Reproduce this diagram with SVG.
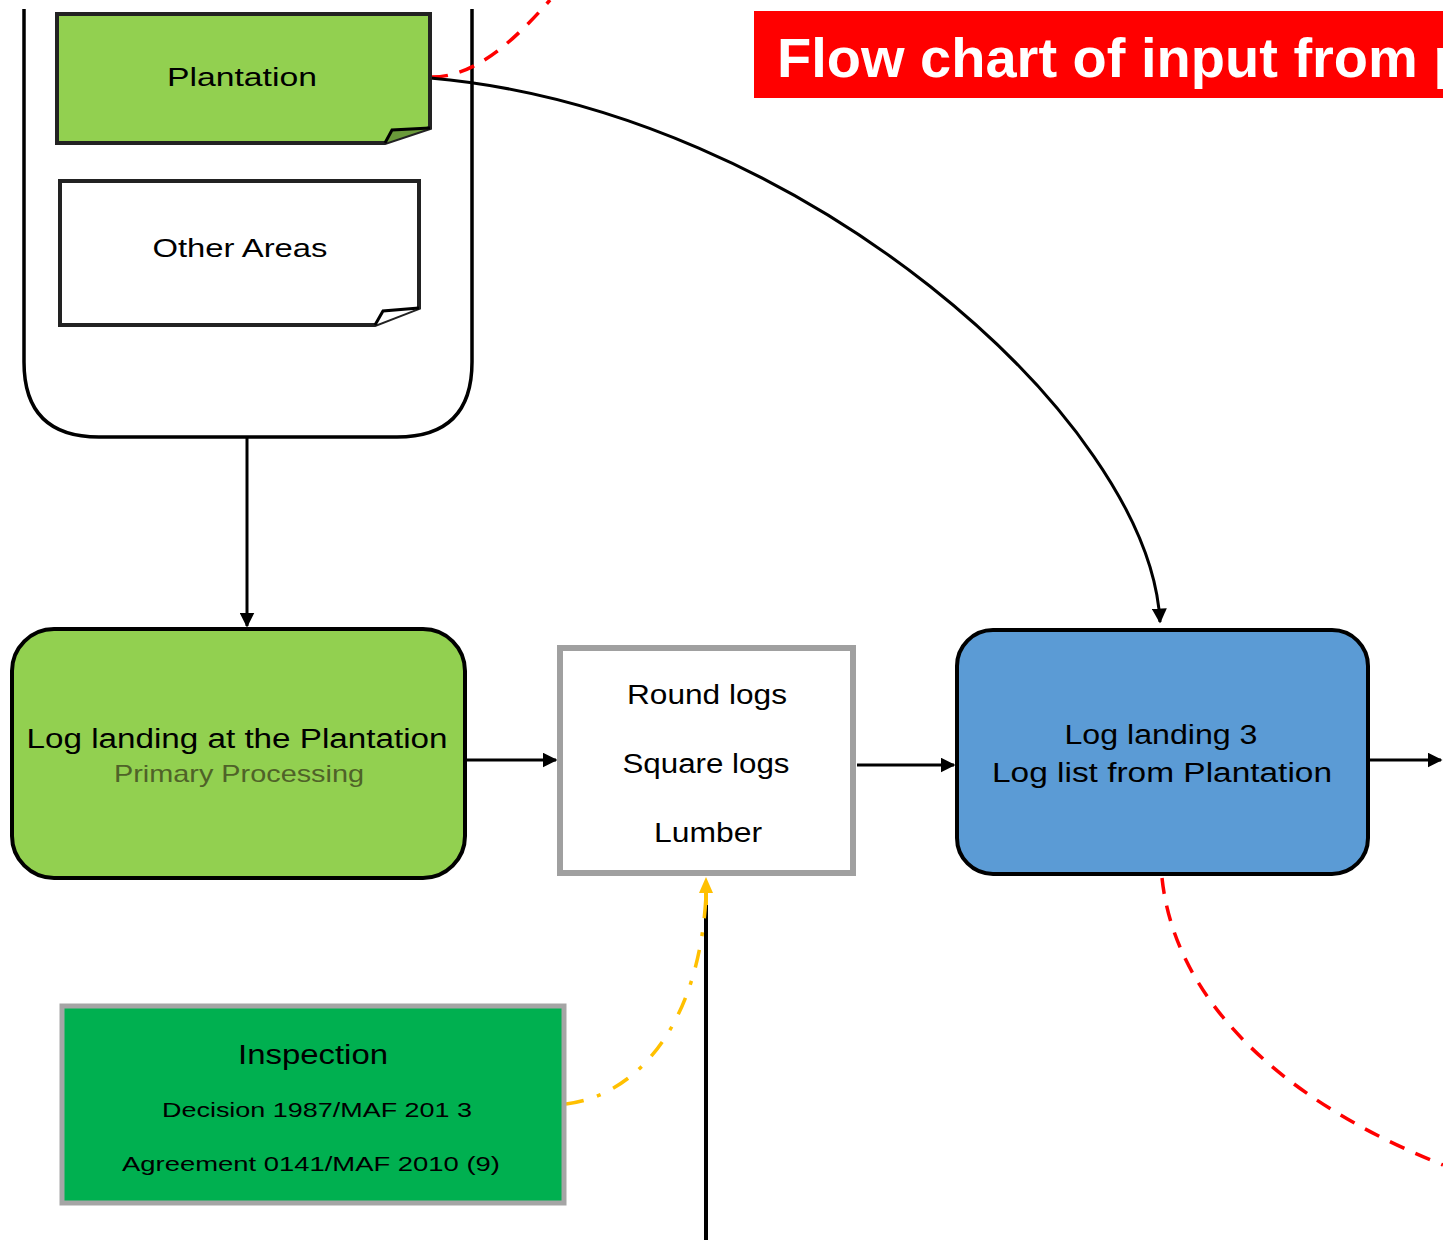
<svg xmlns="http://www.w3.org/2000/svg" width="1443" height="1240" viewBox="0 0 1443 1240">
  <style>
    .lbl { font-family: "Liberation Sans", "Noto Sans", Arial, sans-serif; fill: #000; text-anchor: middle; }
    .conn { fill: none; stroke: #000; stroke-width: 3; }
    .red { fill: none; stroke: #ff0000; stroke-width: 3.5; stroke-dasharray: 16 12; }
    .yel { fill: none; stroke: #ffc000; stroke-width: 3.5; stroke-dasharray: 18 14 4 14; }
  </style>
  <defs>
    <marker id="arr" viewBox="0 0 10 10" refX="9" refY="5" markerWidth="5" markerHeight="5" orient="auto" markerUnits="strokeWidth">
      <path d="M0,0 L10,5 L0,10 z" fill="#000"/>
    </marker>
  </defs>
  <rect width="1443" height="1240" fill="#fff"/>

  <g id="container">
    <path d="M24,9 L24,362 Q24,437 99,437 L397,437 Q472,437 472,362 L472,9" fill="#fff" stroke="#000" stroke-width="3.5"/>
  </g>

  <g id="connectors">
    <path class="red" d="M432,77 C475,77 515,40 550,0"/>
    <path class="conn" d="M430,78 C800,110 1150,420 1160,622" marker-end="url(#arr)"/>
    <path class="conn" d="M247,437 L247,626" marker-end="url(#arr)"/>
    <path class="conn" d="M467,760 L556,760" marker-end="url(#arr)"/>
    <path class="conn" d="M857,765 L954,765" stroke-width="4" marker-end="url(#arr)"/>
    <path class="conn" d="M1370,760 L1441,760" marker-end="url(#arr)"/>
    <path class="red" d="M1162,878 C1175,1000 1280,1100 1443,1165"/>
    <path d="M706,903 L706,1240" fill="none" stroke="#000" stroke-width="4"/>
    <path class="yel" d="M566,1104 C640,1095 700,1020 706,895"/>
    <path d="M706,877 L713,893 L708,893 L708,905 L704,905 L704,893 L699,893 Z" fill="#ffc000"/>
  </g>

  <g id="plantation">
    <path d="M57,14 L430,14 L430,128 L385,143 L57,143 Z" fill="#92d050" stroke="#222" stroke-width="4"/>
    <path d="M385,143 L392,130 L430,128" fill="#6a9a3a" stroke="#000" stroke-width="3"/>
    <text class="lbl" x="242" y="86" font-size="26" textLength="150" lengthAdjust="spacingAndGlyphs">Plantation</text>
  </g>

  <g id="other-areas">
    <path d="M60,181 L419,181 L419,308 L375,325 L60,325 Z" fill="#fff" stroke="#222" stroke-width="4"/>
    <path d="M375,325 L383,311 L419,308" fill="#fff" stroke="#000" stroke-width="3"/>
    <text class="lbl" x="240" y="257" font-size="26" textLength="175" lengthAdjust="spacingAndGlyphs">Other Areas</text>
  </g>

  <g id="log-landing-plantation">
    <rect x="12" y="629" width="453" height="249" rx="42" ry="42" fill="#92d050" stroke="#000" stroke-width="4"/>
    <text class="lbl" x="237" y="748" font-size="27" textLength="421" lengthAdjust="spacingAndGlyphs">Log landing at the Plantation</text>
    <text class="lbl" x="239" y="782" font-size="24" style="fill:#4f6228" textLength="250" lengthAdjust="spacingAndGlyphs">Primary Processing</text>
  </g>

  <g id="products">
    <rect x="560" y="648" width="293" height="225" fill="#fff" stroke="#a0a0a0" stroke-width="6"/>
    <text class="lbl" x="707" y="704" font-size="27" textLength="160" lengthAdjust="spacingAndGlyphs">Round logs</text>
    <text class="lbl" x="706" y="773" font-size="27" textLength="167" lengthAdjust="spacingAndGlyphs">Square logs</text>
    <text class="lbl" x="708" y="842" font-size="27" textLength="108" lengthAdjust="spacingAndGlyphs">Lumber</text>
  </g>

  <g id="log-landing-3">
    <rect x="957" y="630" width="411" height="244" rx="36" ry="36" fill="#5b9bd5" stroke="#000" stroke-width="4"/>
    <text class="lbl" x="1161" y="744" font-size="27" textLength="193" lengthAdjust="spacingAndGlyphs">Log landing 3</text>
    <text class="lbl" x="1162" y="782" font-size="27" textLength="340" lengthAdjust="spacingAndGlyphs">Log list  from Plantation</text>
  </g>

  <g id="inspection">
    <rect x="62" y="1006" width="502" height="197" fill="#00b050" stroke="#a5a5a5" stroke-width="5"/>
    <text class="lbl" x="313" y="1064" font-size="27" textLength="150" lengthAdjust="spacingAndGlyphs">Inspection</text>
    <text class="lbl" x="317" y="1117" font-size="21" textLength="310" lengthAdjust="spacingAndGlyphs">Decision 1987/MAF  201 3</text>
    <text class="lbl" x="311" y="1171" font-size="21" textLength="378" lengthAdjust="spacingAndGlyphs">Agreement  0141/MAF 2010 (9)</text>
  </g>

  <g id="title">
    <rect x="754" y="11" width="689" height="87" fill="#ff0000"/>
    <text x="777" y="77" font-family="'Liberation Sans', Arial, sans-serif" font-weight="bold" font-size="56" fill="#fff">Flow chart of input from p</text>
  </g>
</svg>
